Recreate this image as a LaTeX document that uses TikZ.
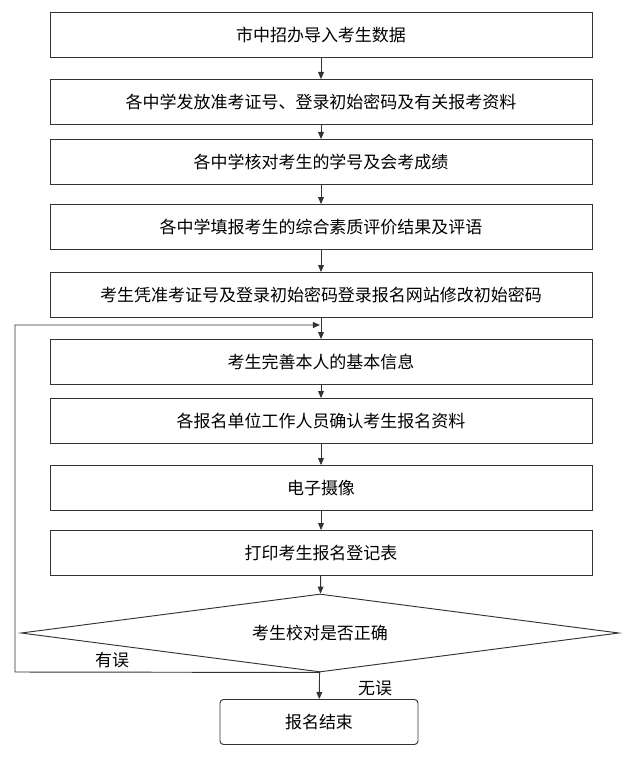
\documentclass[tikz,border=0pt]{standalone}
\usepackage{fontspec}
\setmainfont{Noto Sans CJK SC}
\usetikzlibrary{arrows.meta,shapes.geometric}
\begin{document}
\begin{tikzpicture}[x=0.03cm,y=-0.03cm,
  box/.style={draw=black!80,line width=0.8pt,minimum width=16.26cm,minimum height=1.35cm,font=\fontsize{14.5}{17}\selectfont,inner sep=0pt},
  arr/.style={-{Triangle[length=6pt,width=5pt]},line width=0.8pt,draw=black!80}]
\useasboundingbox (0,0) rectangle (640,765);
\node[box] (b1) at (321,35) {市中招办导入考生数据};
\node[box] (b2) at (321,102) {各中学发放准考证号、登录初始密码及有关报考资料};
\node[box] (b3) at (321,162) {各中学核对考生的学号及会考成绩};
\node[box] (b4) at (321,227) {各中学填报考生的综合素质评价结果及评语};
\node[box] (b5) at (321,295) {考生凭准考证号及登录初始密码登录报名网站修改初始密码};
\node[box] (b6) at (321,362) {考生完善本人的基本信息};
\node[box] (b7) at (321,421) {各报名单位工作人员确认考生报名资料};
\node[box] (b8) at (321,488) {电子摄像};
\node[box] (b9) at (321,553) {打印考生报名登记表};
\node[draw=black!80,line width=0.8pt,diamond,aspect=7.6,minimum width=17.94cm,minimum height=2.34cm,inner sep=0pt,font=\fontsize{14.5}{17}\selectfont] (d) at (320,633) {考生校对是否正确};
\node[box,rounded corners=3pt,minimum width=5.94cm] (e) at (319,722) {报名结束};
\draw[arr] (b1) -- (b2);
\draw[arr] (b2) -- (b3);
\draw[arr] (b3) -- (b4);
\draw[arr] (b4) -- (b5);
\coordinate (m) at (320,325);
\draw[arr] (b5) -- (b6);
\draw[arr] (b6) -- (b7);
\draw[arr] (b7) -- (b8);
\draw[arr] (b8) -- (b9);
\draw[arr] (b9) -- (d);
\draw[arr] (d) -- (e);
\coordinate (c1) at (15,672);
\coordinate (c2) at (15,325);
\draw[arr] (d.south) -- (c1) -- (c2) -- (m);
\node[font=\fontsize{14.5}{17}\selectfont] (l1) at (112,660) {有误};
\node[font=\fontsize{14.5}{17}\selectfont] (l2) at (375,688) {无误};
\end{tikzpicture}
\end{document}
